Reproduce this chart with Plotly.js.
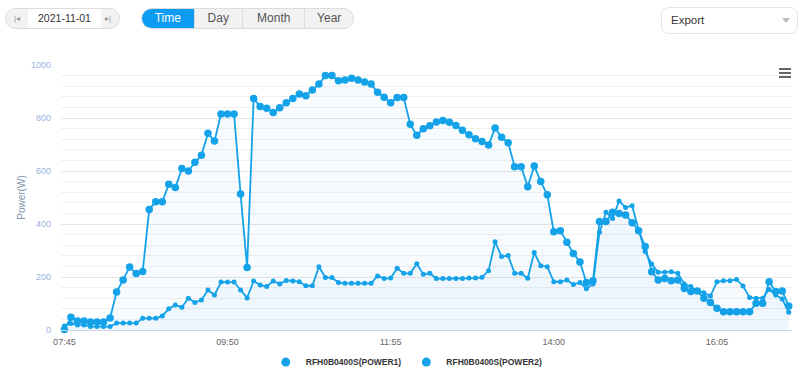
<!DOCTYPE html>
<html>
<head>
<meta charset="utf-8">
<script src="https://cdn.plot.ly/plotly-3.0.1.min.js"></script>
<style>
  html, body { margin: 0; padding: 0; background: #ffffff; }
  body { width: 800px; height: 378px; position: relative; overflow: hidden; font-family: "Liberation Sans", Arial, sans-serif; }
  #chart { position: absolute; left: 0; top: 0; width: 800px; height: 378px; }
  .ctl { position: absolute; z-index: 5; box-sizing: border-box; }
  #datebox { left: 5px; top: 8px; width: 115px; height: 21px; border: 1px solid #dcdcdc; border-radius: 11px; overflow: hidden; background: #f2f2f2; }
  #datebox .mid { position: absolute; left: 22px; top: 0; width: 73px; height: 19px; background: #fff; font-size: 10.5px; color: #333; line-height: 19px; text-align: center; }
  #datebox .ico { position: absolute; top: 0; height: 19px; line-height: 19px; font-size: 8px; color: #999; width: 22px; text-align: center; }
  #btns { left: 141px; top: 8px; width: 213px; height: 21px; border: 1px solid #dcdcdc; border-radius: 11px; overflow: hidden; background: #f2f2f2; display: flex; }
  #btns div { height: 19px; line-height: 19px; font-size: 12px; color: #555; text-align: center; border-left: 1px solid #dcdcdc; box-sizing: border-box; }
  #btns div.on { background: #0e9bf2; color: #fff; border-left: none; }
  #export { left: 661px; top: 7px; width: 137px; height: 27px; border: 1px solid #e6e6e6; border-radius: 8px; background: #fff; font-size: 11.5px; color: #333; line-height: 25px; padding-left: 9px; }
  #export .arr { position: absolute; right: 7px; top: 10px; width: 0; height: 0; border-left: 4px solid transparent; border-right: 4px solid transparent; border-top: 5px solid #bbb; }
  #menu { left: 779px; top: 68px; width: 12px; height: 10px; }
  #menu span { position: absolute; left: 0; width: 12px; height: 2px; background: #666; }
</style>
</head>
<body>
<div id="chart"></div>
<div class="ctl" id="datebox"><div class="ico" style="left:0">|◂</div><div class="mid">2021-11-01</div><div class="ico" style="right:0">▸|</div></div>
<div class="ctl" id="btns"><div class="on" style="width:52px">Time</div><div style="width:49px">Day</div><div style="width:63px">Month</div><div style="width:49px">Year</div></div>
<div class="ctl" id="export">Export<div class="arr"></div></div>
<div class="ctl" id="menu"><span style="top:0"></span><span style="top:4px"></span><span style="top:8px"></span></div>
<script>
const times = [
  "07:45","07:50","07:55","08:00","08:05","08:10","08:15","08:20","08:25","08:30","08:35","08:40",
  "08:45","08:50","08:55","09:00","09:05","09:10","09:15","09:20","09:25","09:30","09:35","09:40",
  "09:45","09:50","09:55","10:00","10:05","10:10","10:15","10:20","10:25","10:30","10:35","10:40",
  "10:45","10:50","10:55","11:00","11:05","11:10","11:15","11:20","11:25","11:30","11:35","11:40",
  "11:45","11:50","11:55","12:00","12:05","12:10","12:15","12:20","12:25","12:30","12:35","12:40",
  "12:45","12:50","12:55","13:00","13:05","13:10","13:15","13:20","13:25","13:30","13:35","13:40",
  "13:45","13:50","13:55","14:00","14:05","14:10","14:15","14:20","14:25","14:30","14:35","14:40",
  "14:45","14:50","14:55","15:00","15:05","15:10","15:15","15:20","15:25","15:30","15:35","15:40",
  "15:45","15:50","15:55","16:00","16:05","16:10","16:15","16:20","16:25","16:30","16:35","16:40",
  "16:45","16:50","16:55","17:00"
];
const tickLabels = ["07:45","09:50","11:55","14:00","16:05"];
const yTicks = [0, 200, 400, 600, 800, 1000];

const power1 = [
  2, 48, 34, 34, 30, 30, 30, 45, 143, 189, 238, 213,
  221, 455, 484, 484, 550, 538, 609, 600, 633, 659, 742, 713,
  815, 815, 815, 513, 236, 874, 843, 837, 821, 839, 858, 874,
  891, 884, 906, 928, 960, 960, 941, 943, 950, 943, 936, 928,
  897, 878, 858, 877, 877, 776, 735, 759, 771, 785, 791, 784,
  772, 754, 737, 722, 711, 698, 762, 727, 707, 616, 616, 541,
  619, 560, 510, 371, 375, 331, 289, 257, 179, 186, 409, 409,
  444, 440, 434, 405, 375, 315, 220, 189, 194, 186, 189, 157,
  145, 147, 120, 104, 82, 69, 69, 69, 69, 69, 101, 101,
  182, 145, 147, 91
];
const power2 = [
  15, 25, 19, 19, 13, 13, 13, 13, 26, 26, 26, 26,
  44, 44, 44, 53, 80, 94, 86, 120, 104, 113, 151, 132,
  181, 181, 181, 151, 121, 185, 170, 164, 185, 174, 187, 185,
  182, 167, 167, 239, 198, 198, 179, 176, 176, 176, 176, 176,
  204, 194, 196, 233, 214, 214, 250, 210, 214, 194, 194, 194,
  194, 194, 196, 196, 199, 224, 333, 277, 281, 214, 214, 195,
  292, 242, 239, 182, 182, 189, 172, 179, 156, 174, 369, 444,
  421, 487, 462, 469, 377, 296, 249, 218, 218, 220, 214, 174,
  164, 147, 141, 128, 182, 186, 186, 191, 166, 123, 120, 120,
  153, 132, 117, 67
];
const seriesNames = ["RFH0B0400S(POWER1)", "RFH0B0400S(POWER2)"];

const blue = "#14a2e9";
const fillBlue = "rgba(20,150,230,0.035)";

const traces = [
  { x: times, y: power1, type: "scatter", mode: "lines+markers", name: seriesNames[0], showlegend: false,
    line: { color: blue, width: 1.8 }, marker: { color: blue, size: 7.5 }, fill: "tozeroy", fillcolor: fillBlue, cliponaxis: false },
  { x: times, y: power2, type: "scatter", mode: "lines+markers", name: seriesNames[1], showlegend: false,
    line: { color: blue, width: 1.8 }, marker: { color: blue, size: 5 }, fill: "tozeroy", fillcolor: fillBlue, cliponaxis: false },
  { x: [times[0]], y: [null], type: "scatter", mode: "markers", name: seriesNames[0], showlegend: true,
    marker: { color: blue, size: 9 } },
  { x: [times[0]], y: [null], type: "scatter", mode: "markers", name: seriesNames[1], showlegend: true,
    marker: { color: blue, size: 9 } }
];

const layout = {
  width: 800, height: 378,
  margin: { l: 61, r: 8, t: 65, b: 48, autoexpand: false },
  paper_bgcolor: "rgba(0,0,0,0)", plot_bgcolor: "rgba(0,0,0,0)",
  font: { family: "Liberation Sans, Arial, sans-serif", size: 9, color: "#666" },
  showlegend: true,
  legend: { orientation: "h", x: 0.473, xanchor: "center", y: -0.121, yanchor: "middle",
    font: { family: "Liberation Sans, Arial, sans-serif", size: 8.5, color: "#333", weight: "bold" },
    itemwidth: 30, traceorder: "normal", bgcolor: "rgba(0,0,0,0)" },
  xaxis: {
    type: "category", range: [-0.52, times.length - 0.5],
    tickmode: "array", tickvals: tickLabels, ticktext: tickLabels,
    showgrid: false, zeroline: false, showline: true, linecolor: "#ccd6eb", linewidth: 1,
    ticks: "", ticklabelstandoff: 3, tickfont: { size: 9, color: "#666" }, fixedrange: true
  },
  yaxis: {
    range: [0, 1000], tickmode: "array", tickvals: yTicks, ticktext: yTicks.map(String),
    showgrid: true, gridcolor: "#e6e6e6", gridwidth: 1, zeroline: false, showline: false,
    minor: { dtick: 40, tick0: 0, showgrid: true, gridcolor: "#f0f0f0", gridwidth: 1 },
    ticks: "", ticklabelstandoff: 9,
    tickfont: { size: 9, color: "#9ab4e2" },
    title: { text: "Power(W)", font: { size: 10, color: "#7f93ad" }, standoff: 3 },
    fixedrange: true
  },
  hovermode: false
};

Plotly.newPlot("chart", traces, layout, { displayModeBar: false, staticPlot: true });
</script>
</body>
</html>
